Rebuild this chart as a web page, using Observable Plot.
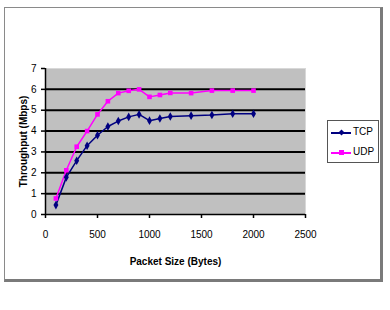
<!DOCTYPE html>
<html>
<head>
<meta charset="utf-8">
<script src="https://cdn.jsdelivr.net/npm/d3@7"></script>
<script src="https://cdn.jsdelivr.net/npm/@observablehq/plot@0.6"></script>
<style>
  html, body { margin: 0; padding: 0; background: #fff; }
  #wrap { position: relative; width: 390px; height: 310px; overflow: hidden; font-family: "Liberation Sans", Arial, sans-serif; }
  #chart { position: absolute; left: 0; top: 0; }
  #chart svg g[aria-label$="tick label"] text { font-weight: normal; }
  #frame { position: absolute; left: 4px; top: 7px; width: 375px; height: 271px;
    border-left: 1px solid #8a8a8a; border-top: 1px solid #8a8a8a;
    border-right: 3px solid #7a7a7a; border-bottom: 3px solid #7a7a7a; pointer-events: none; }
  #legend { position: absolute; left: 327px; top: 120px; width: 50px; height: 41px;
    border: 1px solid #555; background: #fff; font-size: 10px; }
  .item { position: absolute; left: 3px; height: 10px; width: 48px; }
  .item .ln { position: absolute; left: 0; top: 5px; width: 20px; height: 1.5px; }
  .item .mk { position: absolute; left: 8px; top: 3px; width: 5px; height: 5px; }
  .item .tx { position: absolute; left: 22px; top: -1px; line-height: 12px; }
</style>
</head>
<body>
<div id="wrap">
  <div id="chart"></div>
  <div id="frame"></div>
  <div id="legend"></div>
</div>
<script>
const packetSize = [100, 200, 300, 400, 500, 600, 700, 800, 900, 1000, 1100, 1200, 1400, 1600, 1800, 2000];
const tcp = [0.45, 1.78, 2.58, 3.3, 3.8, 4.22, 4.48, 4.68, 4.8, 4.5, 4.6, 4.7, 4.74, 4.77, 4.83, 4.83];
const udp = [0.77, 2.12, 3.25, 4.0, 4.8, 5.43, 5.82, 5.93, 6.0, 5.64, 5.73, 5.83, 5.82, 5.94, 5.94, 5.94];
const xTicks = [0, 500, 1000, 1500, 2000, 2500];
const yTicks = [0, 1, 2, 3, 4, 5, 6, 7];
const gridLines = [1, 2, 3, 4, 5, 6];
const seriesNames = ["TCP", "UDP"];
const seriesColors = ["#000080", "#ff00ff"];
const seriesSymbols = ["diamond", "square"];

const data = [];
packetSize.forEach((x, i) => {
  data.push({x, y: tcp[i], s: "TCP"});
  data.push({x, y: udp[i], s: "UDP"});
});

const chart = Plot.plot({
  width: 390,
  height: 310,
  marginLeft: 45,
  marginRight: 85,
  marginTop: 68,
  marginBottom: 96,
  style: { fontFamily: "'Liberation Sans', Arial, sans-serif", fontSize: "10px", fontWeight: "bold", background: "transparent", color: "#000" },
  x: { domain: [0, 2500] },
  y: { domain: [0, 7] },
  color: { domain: seriesNames, range: seriesColors },
  symbol: { domain: seriesNames, range: seriesSymbols },
  marks: [
    Plot.frame({ fill: "#c0c0c0", stroke: "#d8d8d8" }),
    Plot.ruleY(gridLines, { stroke: "#000", strokeWidth: 2 }),
    Plot.axisX({ ticks: xTicks, tickSize: 4, tickPadding: 12, tickFormat: d => String(d), label: "Packet Size (Bytes)", labelAnchor: "center", labelArrow: "none", labelOffset: 50, stroke: "#000", strokeWidth: 1.5 }),
    Plot.axisY({ ticks: yTicks, tickSize: 4, tickPadding: 5, tickFormat: d => String(d), label: "Throughput (Mbps)", labelAnchor: "center", labelArrow: "none", labelOffset: 26, stroke: "#000", strokeWidth: 1.5 }),
    Plot.ruleX([0], { stroke: "#000", strokeWidth: 1.5 }),
    Plot.ruleY([0], { stroke: "#000", strokeWidth: 1.5 }),
    Plot.line(data, { x: "x", y: "y", z: "s", stroke: "s", strokeWidth: 1.5 }),
    Plot.dot(data, { x: "x", y: "y", fill: "s", symbol: "s", r: 2.6, stroke: "none" })
  ]
});
document.getElementById("chart").appendChild(chart);

const legend = document.getElementById("legend");
seriesNames.forEach((name, i) => {
  const it = document.createElement("div");
  it.className = "item";
  it.style.top = (6 + i * 20) + "px";
  const ln = document.createElement("div");
  ln.className = "ln"; ln.style.background = seriesColors[i];
  const mk = document.createElement("div");
  mk.className = "mk"; mk.style.background = seriesColors[i];
  if (seriesSymbols[i] === "diamond") { mk.style.transform = "rotate(45deg) scale(0.85)"; }
  const tx = document.createElement("div");
  tx.className = "tx"; tx.textContent = name;
  it.append(ln, mk, tx);
  legend.appendChild(it);
});
</script>
</body>
</html>
